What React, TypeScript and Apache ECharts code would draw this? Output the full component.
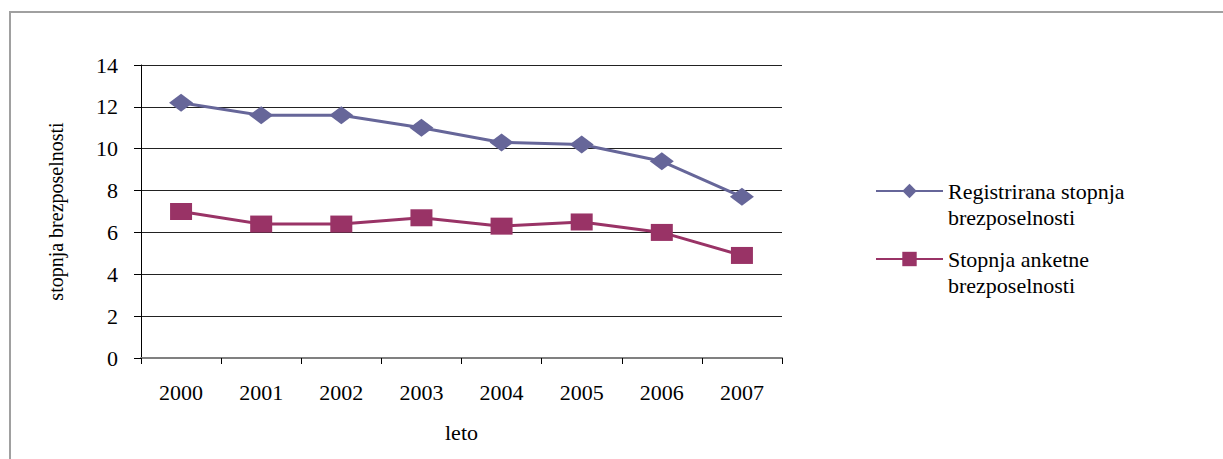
import React, { useEffect, useRef } from "react";
import * as echarts from "echarts";

// Years on the category axis
const years = ["2000", "2001", "2002", "2003", "2004", "2005", "2006", "2007"];

// Registered unemployment rate (%)
const registrirana = [12.2, 11.6, 11.6, 11.0, 10.3, 10.2, 9.4, 7.7];

// Survey (ILO) unemployment rate (%)
const anketna = [7.0, 6.4, 6.4, 6.7, 6.3, 6.5, 6.0, 4.9];

const seriesNames = [
  "Registrirana stopnja brezposelnosti",
  "Stopnja anketne brezposelnosti",
];
// Legend labels wrap onto two lines; the leading empty line keeps the
// first text line level with the legend marker.
const legendLabels: Record<string, string> = {
  "Registrirana stopnja brezposelnosti": "\nRegistrirana stopnja\nbrezposelnosti",
  "Stopnja anketne brezposelnosti": "\nStopnja anketne\nbrezposelnosti",
};

const SERIF = "'Liberation Serif', 'Times New Roman', serif";

export default function App() {
  const ref = useRef<HTMLDivElement>(null);

  useEffect(() => {
    if (!ref.current) return;
    const chart = echarts.init(ref.current, undefined, { renderer: "svg" });
    chart.setOption({
      animation: false,
      backgroundColor: "#ffffff",
      textStyle: { fontFamily: SERIF, color: "#000" },
      graphic: [
        {
          type: "rect",
          shape: { x: 10, y: 12, width: 1240, height: 500 },
          style: { fill: "none", stroke: "#a0a0a0", lineWidth: 2 },
          silent: true,
        },
      ],
      grid: { left: 141, right: 441, top: 65, bottom: 101, containLabel: false },
      legend: {
        orient: "vertical",
        left: 875,
        top: 152,
        padding: 0,
        itemWidth: 67,
        itemHeight: 18,
        itemGap: -10,
        data: seriesNames,
        formatter: (name: string) => legendLabels[name] ?? name,
        textStyle: {
          fontFamily: SERIF,
          fontSize: 22,
          lineHeight: 26,
          color: "#000",
        },
      },
      xAxis: {
        type: "category",
        data: years,
        boundaryGap: true,
        name: "leto",
        nameLocation: "middle",
        nameGap: 63,
        nameTextStyle: { fontFamily: SERIF, fontSize: 22, color: "#000" },
        axisLine: { show: true, lineStyle: { color: "#808080", width: 2 } },
        axisTick: {
          show: true,
          inside: false,
          length: 6,
          interval: 0,
          lineStyle: { color: "#000", width: 1 },
        },
        axisLabel: {
          interval: 0,
          margin: 23,
          fontFamily: SERIF,
          fontSize: 22,
          color: "#000",
        },
        splitLine: { show: false },
      },
      yAxis: {
        type: "value",
        min: 0,
        max: 14,
        interval: 2,
        name: "stopnja brezposelnosti",
        nameLocation: "middle",
        nameRotate: 90,
        nameGap: 75,
        nameTextStyle: { fontFamily: SERIF, fontSize: 20, color: "#000" },
        axisLine: { show: true, lineStyle: { color: "#000", width: 1 } },
        axisTick: {
          show: true,
          inside: false,
          length: 7,
          lineStyle: { color: "#000", width: 1 },
        },
        axisLabel: {
          margin: 23,
          fontFamily: SERIF,
          fontSize: 22,
          color: "#000",
        },
        splitLine: { show: true, lineStyle: { color: "#222", width: 1 } },
      },
      series: [
        {
          name: seriesNames[0],
          type: "line",
          data: registrirana,
          symbol: "diamond",
          symbolSize: [24, 18],
          lineStyle: { color: "#666699", width: 3 },
          itemStyle: { color: "#666699" },
        },
        {
          name: seriesNames[1],
          type: "line",
          data: anketna,
          symbol: "rect",
          symbolSize: [22, 17],
          lineStyle: { color: "#993366", width: 3 },
          itemStyle: { color: "#993366" },
        },
      ],
    });
    return () => chart.dispose();
  }, []);

  return (
    <div
      ref={ref}
      style={{ position: "absolute", left: 0, top: 0, width: 1223, height: 459 }}
    />
  );
}
